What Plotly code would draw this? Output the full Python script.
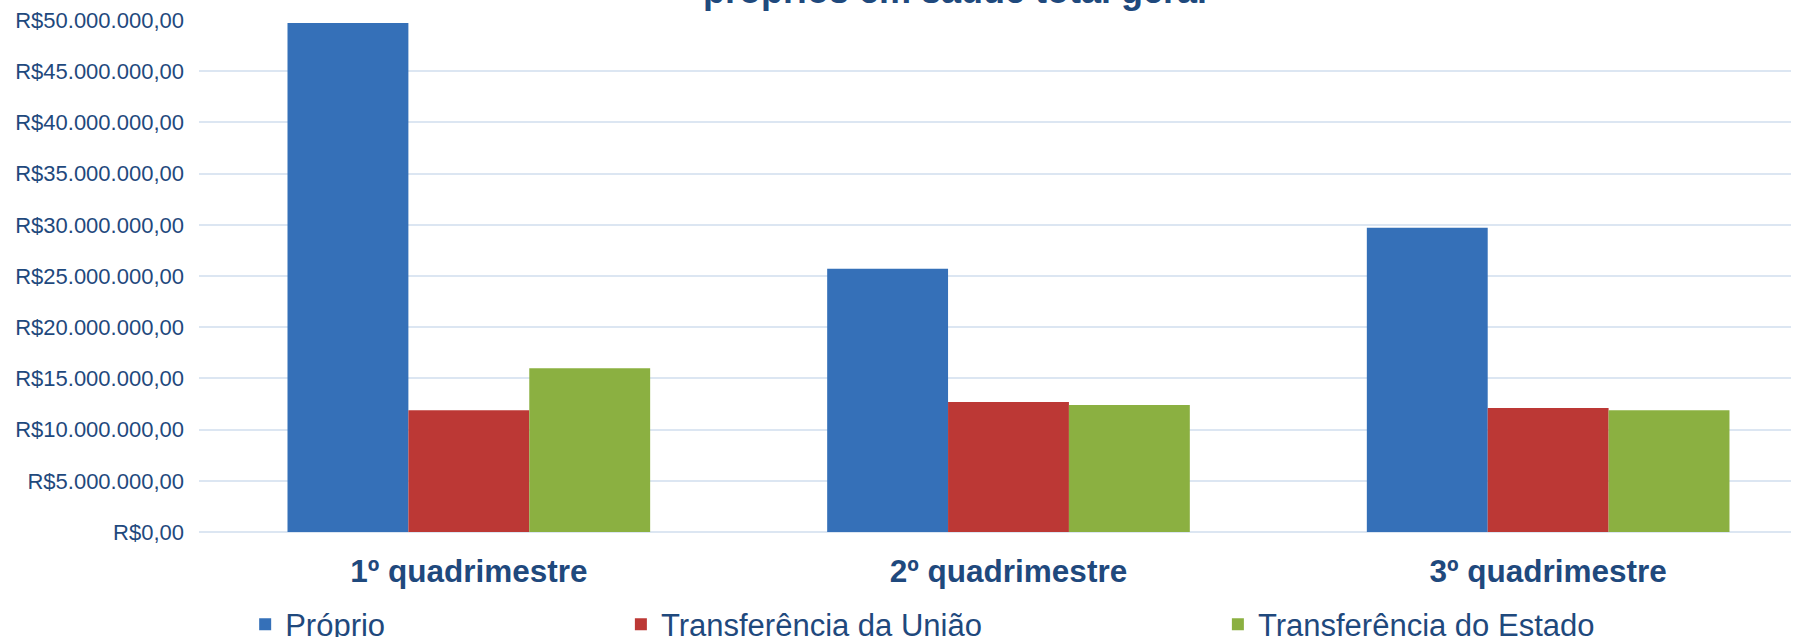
import plotly.graph_objects as go

categories = ["1º quadrimestre", "2º quadrimestre", "3º quadrimestre"]
proprio = [49700000, 25700000, 29700000]
uniao = [11900000, 12700000, 12100000]
estado = [16000000, 12400000, 11900000]

text_color = "#1F497D"
grid_color = "#DCE6F2"
font_family = "Liberation Sans, Arial, sans-serif"

fig = go.Figure()
fig.add_trace(go.Bar(x=categories, y=proprio, name="Próprio", showlegend=True,
                     marker=dict(color="#3570B8", line=dict(width=0)), legend="legend"))
fig.add_trace(go.Bar(x=categories, y=uniao, name="Transferência da União", showlegend=True,
                     marker=dict(color="#BC3835", line=dict(width=0)), legend="legend2"))
fig.add_trace(go.Bar(x=categories, y=estado, name="Transferência do Estado", showlegend=True,
                     marker=dict(color="#8BB041", line=dict(width=0)), legend="legend3"))

# legends sit in the bottom strip, referenced to the container so they don't push margins
legend_style = dict(orientation="h", yref="container", y=0.0195, yanchor="middle",
                    xanchor="left",
                    font=dict(size=31, color=text_color, family=font_family),
                    bgcolor="rgba(0,0,0,0)")

fig.update_layout(
    width=1806, height=637, autosize=False,
    margin=dict(l=199, r=15, t=20, b=105),
    paper_bgcolor="white", plot_bgcolor="white",
    barmode="group", bargap=0.328, bargroupgap=0,
    separators=",.",
    showlegend=True,
    font=dict(family=font_family, color=text_color),
    legend=dict(x=0.029, **legend_style),
    legend2=dict(x=0.265, **legend_style),
    legend3=dict(x=0.640, **legend_style),
    annotations=[dict(text="<b>próprios em saúde total geral</b>", xref="paper", yref="paper",
                      x=0.475, y=1, xanchor="center", yanchor="middle", yshift=30,
                      showarrow=False, font=dict(size=36, color=text_color, family=font_family))],
)

fig.update_xaxes(range=[-0.5, 2.45], showgrid=False, showline=False, ticks="",
                 automargin=False,
                 tickfont=dict(size=31.5, color=text_color, family=font_family, weight="bold"),
                 ticklabelstandoff=17)
fig.update_yaxes(range=[0, 50000000], dtick=5000000, tickprefix="R$", tickformat=",.2f",
                 showgrid=True, gridcolor=grid_color, gridwidth=2,
                 zeroline=True, zerolinecolor=grid_color, zerolinewidth=2,
                 showline=False, ticks="", ticklabelstandoff=14, automargin=False,
                 tickfont=dict(size=22, color=text_color, family=font_family))

# drop the browser's default body margin so the figure sits at the page corner
fig.write_html("out.html", config={"displayModeBar": False},
               post_script="document.body.style.margin='0';document.body.style.overflow='hidden';")
